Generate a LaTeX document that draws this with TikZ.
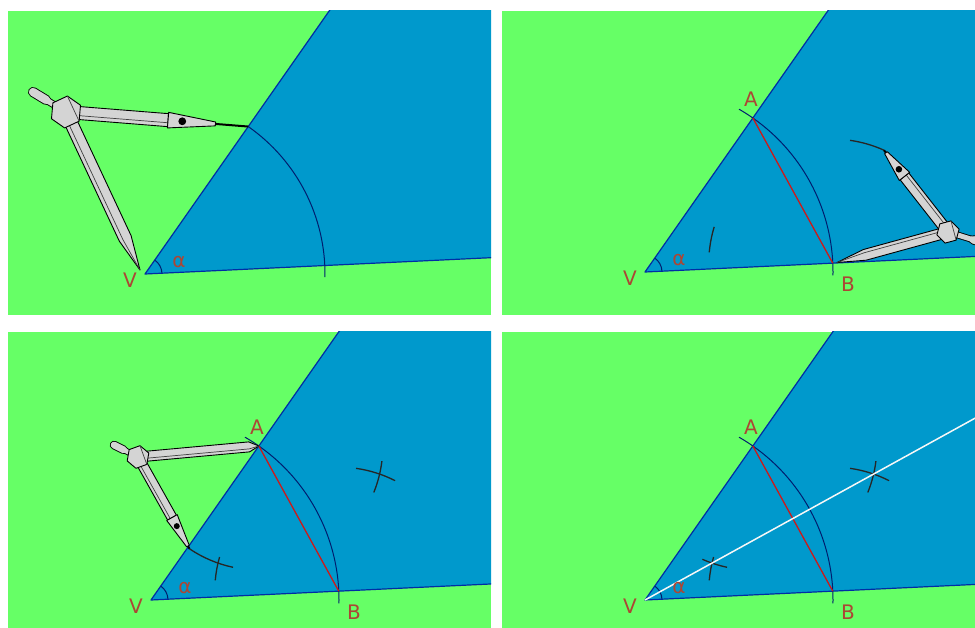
\documentclass[tikz,border=0pt]{standalone}
\usepackage{fontspec}
\setmainfont{DejaVu Sans}
\usetikzlibrary{calc}

\definecolor{grass}{RGB}{102,255,102}
\definecolor{sea}{RGB}{0,153,204}
\definecolor{rayblue}{RGB}{0,45,165}
\definecolor{arcnavy}{RGB}{0,30,110}
\definecolor{chordred}{RGB}{205,25,25}
\definecolor{labelred}{RGB}{172,70,52}
\definecolor{steel}{RGB}{212,212,212}

\tikzset{
  ray/.style={draw=rayblue, line width=1.2pt, line join=round},
  bigarc/.style={draw=arcnavy, line width=1pt},
  chord/.style={draw=chordred, line width=1.3pt},
  crossarc/.style={draw=black!85, line width=1.3pt},
  bisector/.style={draw=white!94!gray, line width=1.5pt},
  lbl/.style={text=labelred, font=\fontsize{20}{20}\selectfont, inner sep=0pt},
  legbody/.style={fill=steel, draw=black, line width=0.9pt, line join=round},
  legedge/.style={draw=black!75, line width=0.7pt},
  lead/.style={draw=black, line width=2pt},
}

% leg ending in a needle: hub #1, point #2, width #3, taper start #4
\newcommand\needleleg[4]{%
  \coordinate (nl0) at (#1);
  \coordinate (nl1) at (#2);
  \coordinate (nlm) at ($(nl0)!#4!(nl1)$);
  \filldraw[legbody] ($(nl0)!#3/2!90:(nl1)$) -- ($(nlm)!#3/2!-90:(nl0)$) -- (nl1)
    -- ($(nlm)!#3/2!90:(nl0)$) -- ($(nl0)!#3/2!-90:(nl1)$) -- cycle;
  \draw[legedge] ($(nl0)!#3/5!90:(nl1)$) -- ($(nlm)!#3/5!-90:(nl0)$) -- (nl1);
}

% leg holding the pencil: hub #1, lead tip #2, width #3, holder from #4 to #5
\newcommand\pencilleg[5]{%
  \coordinate (pl0) at (#1);
  \coordinate (pl1) at (#2);
  \coordinate (pla) at ($(pl0)!#4!(pl1)$);
  \coordinate (plb) at ($(pl0)!#5!(pl1)$);
  \draw[lead] (plb) -- (pl1);
  \filldraw[legbody] ($(pl0)!#3/2!90:(pl1)$) -- ($(pla)!#3/2!-90:(pl0)$)
    -- ($(pla)!#3/2!90:(pl0)$) -- ($(pl0)!#3/2!-90:(pl1)$) -- cycle;
  \draw[legedge] ($(pl0)!#3/5!90:(pl1)$) -- ($(pla)!#3/5!-90:(pl0)$);
  \filldraw[legbody] ($(pla)!0.6*#3!90:(pl1)$) -- ($(plb)!0.15*#3!-90:(pla)$)
    -- ($(plb)!0.15*#3!90:(pla)$) -- ($(pla)!0.6*#3!-90:(pl1)$) -- cycle;
  \fill[black] ($(pla)!0.3!(plb)$) circle[radius=0.3*#3];
}

% handle knob: hub #1, knob end #2, stem width #3
\newcommand\compasshandle[3]{%
  \coordinate (hk0) at (#1);
  \coordinate (hk1) at (#2);
  \draw[line width=#3+1.8pt, line cap=round] (hk0) -- (hk1);
  \draw[line width=1.5*#3+1.8pt, line cap=round] ($(hk0)!0.6!(hk1)$) -- (hk1);
  \draw[steel, line width=#3, line cap=round] (hk0) -- (hk1);
  \draw[steel, line width=1.5*#3, line cap=round] ($(hk0)!0.6!(hk1)$) -- (hk1);
}

% hexagonal hub: centre #1, radius #2, turn #3
\newcommand\compasshub[3]{%
  \filldraw[legbody] ($(#1)+(#3:#2)$)
    -- ($(#1)+(#3+60:#2)$) -- ($(#1)+(#3+120:#2)$) -- ($(#1)+(#3+180:#2)$)
    -- ($(#1)+(#3+240:#2)$) -- ($(#1)+(#3+300:#2)$) -- cycle;
  \draw[legedge] ($(#1)+(#3+60:#2)$) -- ($(#1)+(#3-60:#2)$);
}

% the angle, its sides and the alpha mark; origin at the vertex
\newcommand\anglebase{%
  \fill[sea] (0,0) -- (55:900) -- (2.7:900) -- cycle;
  \draw[ray] (55:900) -- (0,0) -- (2.7:900);
  \draw[bigarc] (2.7:17) arc[start angle=2.7, end angle=55, radius=17];
}

\begin{document}
\begin{tikzpicture}[x=1pt, y=-1pt]
\useasboundingbox (0,0) rectangle (975,628);

% ---------- step 1: arc about V ----------
\begin{scope}
  \clip (8,11) rectangle (491,315);
  \fill[grass] (8,11) rectangle (491,315);
  \begin{scope}[shift={(145,274)}, yscale=-1]
    \anglebase
    \draw[bigarc] (-1:180) arc[start angle=-1, end angle=55, radius=180];
    \coordinate (h1) at (-79,162);
    \compasshandle{h1}{-112,182}{5.5pt}
    \needleleg{h1}{-5,4}{13pt}{0.8}
    \pencilleg{h1}{55:180}{13pt}{0.56}{0.82}
    \compasshub{h1}{16}{25}
    \node[lbl] (v1) at (-15,-6) {V};
    \node[lbl] (al1) at (34,12) {α};
  \end{scope}
\end{scope}

% ---------- step 2: arcs about B ----------
\begin{scope}
  \clip (502,11) rectangle (975,315);
  \fill[grass] (502,11) rectangle (975,315);
  \begin{scope}[shift={(645,272)}, yscale=-1]
    \anglebase
    \coordinate (A2) at (55:188);
    \coordinate (B2) at (2.7:188);
    \draw[bigarc] (-1:188) arc[start angle=-1, end angle=60, radius=188];
    \draw[chord] (A2) -- (B2);
    \draw[crossarc] ($(B2)+(163:124)$) arc[start angle=163, end angle=175, radius=124];
    \draw[crossarc] ($(B2)+(65.6:124)$) arc[start angle=65.6, end angle=82, radius=124];
    \coordinate (h2) at (303,40);
    \compasshandle{h2}{345,27}{5pt}
    \needleleg{h2}{192,9.5}{11pt}{0.75}
    \pencilleg{h2}{$(B2)+(65.6:124)$}{11pt}{0.68}{0.97}
    \compasshub{h2}{11.5}{15}
    \node[lbl] (v2) at (-15,-6) {V};
    \node[lbl] (al2) at (34,12) {α};
    \node[lbl] (a2) at (106,173) {A};
    \node[lbl] (b2) at (203,-12) {B};
  \end{scope}
\end{scope}

% ---------- step 3: arcs about A ----------
\begin{scope}
  \clip (8,332) rectangle (491,628);
  \fill[grass] (8,332) rectangle (491,628);
  \begin{scope}[shift={(151,600)}, yscale=-1]
    \anglebase
    \coordinate (A3) at (55:188);
    \coordinate (B3) at (2.7:188);
    \draw[bigarc] (-1:188) arc[start angle=-1, end angle=60, radius=188];
    \draw[chord] (A3) -- (B3);
    \draw[crossarc] ($(A3)+(-22:124)$) arc[start angle=-22, end angle=-7, radius=124];
    \draw[crossarc] ($(B3)+(63:124)$) arc[start angle=63, end angle=82, radius=124];
    \draw[crossarc] ($(A3)+(236:124)$) arc[start angle=236, end angle=258, radius=124];
    \draw[crossarc] ($(B3)+(164:124)$) arc[start angle=164, end angle=175, radius=124];
    \coordinate (h3) at (-13,143);
    \compasshandle{h3}{-37,155}{4.5pt}
    \needleleg{h3}{A3}{10pt}{0.92}
    \pencilleg{h3}{$(A3)+(236:124)$}{10pt}{0.66}{0.97}
    \compasshub{h3}{11.5}{20}
    \node[lbl] (v3) at (-15,-6) {V};
    \node[lbl] (al3) at (34,12) {α};
    \node[lbl] (a3) at (106,173) {A};
    \node[lbl] (b3) at (203,-12) {B};
  \end{scope}
\end{scope}

% ---------- step 4: the bisector ----------
\begin{scope}
  \clip (502,332) rectangle (975,628);
  \fill[grass] (502,332) rectangle (975,628);
  \begin{scope}[shift={(645,600)}, yscale=-1]
    \anglebase
    \coordinate (A4) at (55:188);
    \coordinate (B4) at (2.7:188);
    \draw[bigarc] (-1:188) arc[start angle=-1, end angle=60, radius=188];
    \draw[chord] (A4) -- (B4);
    \draw[crossarc] ($(A4)+(-22:124)$) arc[start angle=-22, end angle=-7, radius=124];
    \draw[crossarc] ($(B4)+(63:124)$) arc[start angle=63, end angle=82, radius=124];
    \draw[crossarc] ($(A4)+(246:124)$) arc[start angle=246, end angle=258, radius=124];
    \draw[crossarc] ($(B4)+(164:124)$) arc[start angle=164, end angle=175, radius=124];
    \coordinate (v4o) at (0,0);
    \coordinate (far4) at (28.85:600);
    \draw[bisector] (v4o) -- (far4);
    \node[lbl] (v4) at (-15,-6) {V};
    \node[lbl] (al4) at (34,12) {α};
    \node[lbl] (a4) at (106,173) {A};
    \node[lbl] (b4) at (203,-12) {B};
  \end{scope}
\end{scope}
\end{tikzpicture}
\end{document}
